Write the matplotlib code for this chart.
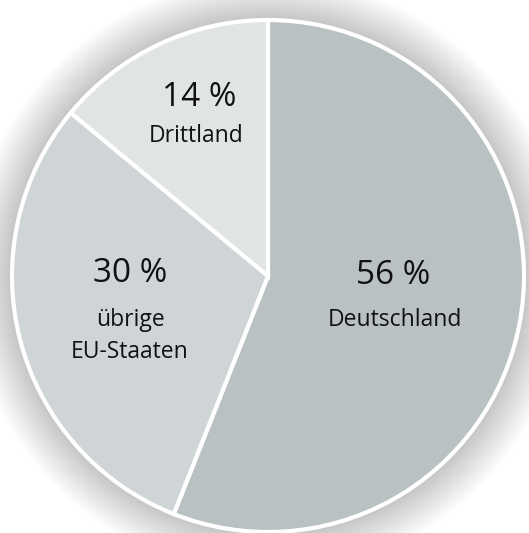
import matplotlib.pyplot as plt
from matplotlib.patches import Circle
import numpy as np

# shares, clockwise from 12 o'clock
labels = ["Deutschland", "übrige\nEU-Staaten", "Drittland"]
shares = [56, 30, 14]
colors = ["#bac1c3", "#cfd4d6", "#e1e4e5"]

fig = plt.figure(figsize=(5.29, 5.33), dpi=100)
ax = fig.add_axes([0, 0, 1, 1])

# pixel geometry of the pie in the picture
cx, cy, rad = 268, 276, 256

# soft shadow round the disc
for r in np.linspace(1.17, 1.0, 60):
    ax.add_patch(Circle((0, 0), r, color="black", alpha=0.0055, lw=0, zorder=0))

wedges, _ = ax.pie(shares, colors=colors, startangle=90, counterclock=False,
                   radius=1.0, wedgeprops=dict(edgecolor="white", linewidth=3),
                   frame=True)
for w in wedges:
    w.set_zorder(2)
ax.set_xlim(-cx / rad, (529 - cx) / rad)
ax.set_ylim((cy - 533) / rad, cy / rad)
ax.set_aspect("equal")
ax.axis("off")

# label positions (pixel -> data)
pct_pos = [(393, 276), (130, 274), (199, 97)]
name_pos = [(395, 320), (130, 336), (196, 136)]
font = ["Open Sans", "DejaVu Sans"]
for s, lab, (px, py), (nx, ny) in zip(shares, labels, pct_pos, name_pos):
    ax.text((px - cx) / rad, (cy - py) / rad, f"{s} %", ha="center", va="center",
            fontsize=24, family=font, color="#111111", zorder=5)
    ax.text((nx - cx) / rad, (cy - ny) / rad, lab, ha="center", va="center",
            fontsize=16.5, family=font, color="#111111", linespacing=1.45, zorder=5)

fig.savefig("out.png", dpi=100)
